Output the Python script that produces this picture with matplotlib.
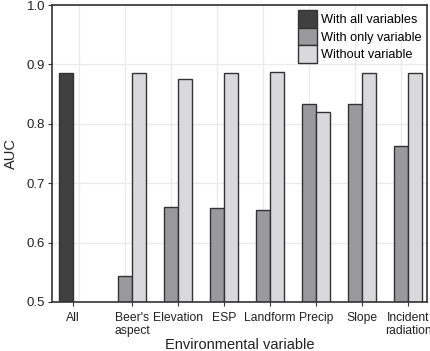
import matplotlib
matplotlib.use("Agg")
import matplotlib.pyplot as plt
from matplotlib.patches import Patch

categories = ["All", "Beer's\naspect", "Elevation", "ESP", "Landform", "Precip", "Slope", "Incident\nradiation"]
with_all = [0.886]
with_only = [0.543, 0.660, 0.659, 0.655, 0.833, 0.834, 0.763]
without = [0.886, 0.875, 0.886, 0.887, 0.820, 0.886, 0.885]
yticks = [0.5, 0.6, 0.7, 0.8, 0.9, 1.0]

plt.rcParams['font.family'] = ['Liberation Sans', 'DejaVu Sans']

c_all = '#404040'
c_only = '#9a9a9c'
c_without = '#d9d9db'
edge = '#333333'

fig = plt.figure(figsize=(4.3, 3.51), dpi=100)
ax = fig.add_axes([52/430, 49/351, (426.7-52)/430, (302-5)/351])

w = 0.3
pos_all = 1 - 59/46
pos_vars = list(range(1, len(with_only) + 1))
base = 0.5

for gx in [pos_all + 0.13 + k for k in range(8)]:
    ax.axvline(gx, color='#ebebeb', lw=1.0, zorder=0)
for yv in yticks:
    ax.axhline(yv, color='#ebebeb', lw=1.0, zorder=0)

ax.bar([pos_all - w/2], [v - base for v in with_all], width=w, bottom=base,
       color=c_all, edgecolor=edge, linewidth=1.0, zorder=2)
ax.bar([p - w/2 for p in pos_vars], [v - base for v in with_only], width=w, bottom=base,
       color=c_only, edgecolor=edge, linewidth=1.0, zorder=2)
ax.bar([p + w/2 for p in pos_vars], [v - base for v in without], width=w, bottom=base,
       color=c_without, edgecolor=edge, linewidth=1.0, zorder=2)

ax.set_xlim((52-132)/46 + 1, (426.7-132)/46 + 1)
ax.set_ylim(0.5, 1.0)
ax.set_xticks([pos_all] + pos_vars)
ax.set_xticklabels(categories, fontsize=8.7, color='#222222', linespacing=1.15)
ax.set_yticks(yticks)
ax.set_yticklabels([f"{v:.1f}" for v in yticks], fontsize=9.5, color='#222222')
ax.tick_params(axis='x', length=3, width=0.8, color='#333333', pad=4)
ax.tick_params(axis='y', length=3, width=0.8, color='#333333', pad=2)
for s in ax.spines.values():
    s.set_color('#333333')
    s.set_linewidth(1.2)

ax.set_xlabel("Environmental variable", fontsize=10.5, color='#222222', labelpad=1)
ax.set_ylabel("AUC", fontsize=10.5, color='#222222', labelpad=6)

handles = [Patch(facecolor=c_all, edgecolor=edge, label='With all variables'),
           Patch(facecolor=c_only, edgecolor=edge, label='With only variable'),
           Patch(facecolor=c_without, edgecolor=edge, label='Without variable')]
leg = ax.legend(handles=handles, loc='upper right', bbox_to_anchor=(1.0, 1.0),
                frameon=False, fontsize=9.2, handlelength=1.5, handleheight=1.75,
                handletextpad=0.3, labelspacing=0.0, borderaxespad=0.2, borderpad=0.2)
leg.set_zorder(5)

fig.savefig("out.png", dpi=100)
